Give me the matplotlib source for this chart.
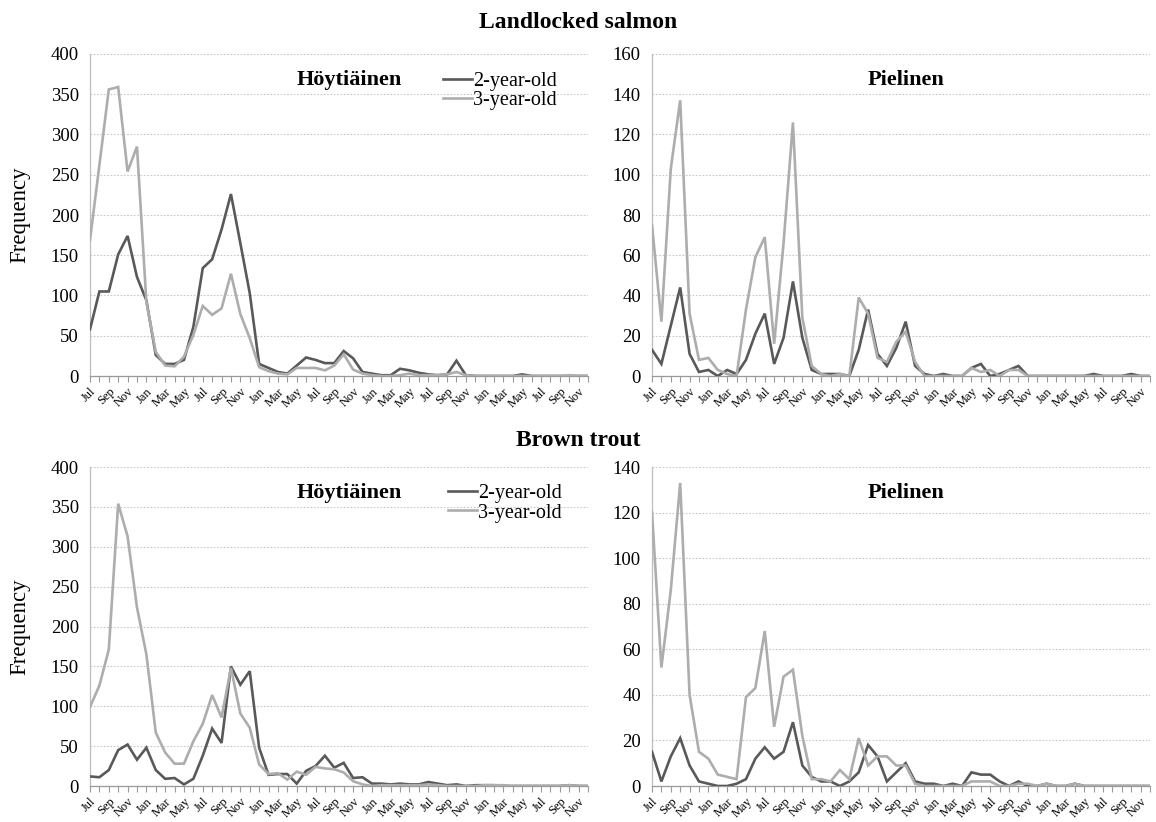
import numpy as np
import matplotlib
matplotlib.use("Agg")
import matplotlib.pyplot as plt
from matplotlib.lines import Line2D

plt.rcParams['font.family'] = ['Liberation Serif', 'DejaVu Serif']

# ---------------- data ----------------
months = ["Jul", "Aug", "Sep", "Oct", "Nov", "Dec", "Jan", "Feb", "Mar", "Apr", "May", "Jun"] * 4 + \
         ["Jul", "Aug", "Sep", "Oct", "Nov", "Dec"]
series_names = ["2-year-old", "3-year-old"]

salmon_hoyt_2 = [58, 105, 105, 151, 174, 123, 94, 26, 15, 15, 20, 61, 134, 145, 182, 226, 165, 103,
                 15, 10, 5, 3, 13, 23, 20, 16, 16, 31, 22, 5, 3, 1, 1, 9, 7, 4, 2, 1, 2, 19,
                 1, 0, 0, 0, 0, 0, 2, 0, 0, 0, 0, 0, 0, 0]
salmon_hoyt_3 = [169, 262, 356, 359, 254, 285, 92, 30, 13, 12, 24, 51, 87, 76, 84, 127, 77, 47,
                 11, 6, 3, 2, 10, 10, 10, 7, 13, 27, 8, 3, 1, 0, 0, 1, 3, 1, 1, 1, 2, 5,
                 1, 0, 0, 0, 0, 0, 0, 0, 0, 0, 0, 1, 0, 0]
salmon_piel_2 = [13, 6, 25, 44, 11, 2, 3, 0, 3, 1, 8, 21, 31, 6, 19, 47, 19, 3,
                 1, 1, 1, 0, 13, 33, 11, 5, 14, 27, 5, 1, 0, 1, 0, 0, 4, 6, 0, 1, 3, 5,
                 0, 0, 0, 0, 0, 0, 0, 1, 0, 0, 0, 1, 0, 0]
salmon_piel_3 = [75, 27, 103, 137, 31, 8, 9, 3, 1, 0, 33, 59, 69, 16, 66, 126, 29, 5,
                 1, 0, 1, 0, 39, 31, 9, 7, 17, 22, 7, 0, 0, 0, 0, 0, 4, 2, 3, 0, 3, 3,
                 0, 0, 0, 0, 0, 0, 0, 0, 0, 0, 0, 0, 0, 0]
trout_hoyt_2 = [12, 11, 20, 45, 52, 33, 48, 20, 9, 10, 2, 9, 38, 72, 54, 150, 127, 144,
                48, 14, 15, 15, 3, 19, 25, 38, 23, 29, 10, 11, 3, 3, 2, 3, 2, 2, 5, 3, 1, 2,
                0, 1, 1, 1, 0, 0, 0, 0, 0, 0, 0, 1, 0, 0]
trout_hoyt_3 = [99, 126, 171, 354, 313, 224, 165, 67, 42, 28, 28, 56, 78, 114, 86, 148, 91, 73,
                27, 15, 16, 8, 18, 14, 24, 22, 21, 17, 6, 2, 0, 1, 1, 1, 1, 1, 2, 1, 0, 0,
                0, 0, 1, 1, 1, 0, 0, 0, 0, 0, 0, 1, 0, 0]
trout_piel_2 = [15, 2, 13, 21, 9, 2, 1, 0, 0, 1, 3, 12, 17, 12, 15, 28, 9, 4,
                2, 2, 0, 2, 6, 18, 13, 2, 6, 10, 2, 1, 1, 0, 1, 0, 6, 5, 5, 2, 0, 2,
                0, 0, 1, 0, 0, 1, 0, 0, 0, 0, 0, 0, 0, 0]
trout_piel_3 = [120, 52, 86, 133, 40, 15, 12, 5, 4, 3, 39, 43, 68, 26, 48, 51, 22, 3,
                3, 2, 7, 3, 21, 9, 13, 13, 9, 9, 1, 0, 0, 0, 0, 0, 2, 2, 2, 0, 0, 1,
                1, 0, 1, 0, 0, 1, 0, 0, 0, 0, 0, 0, 0, 0]

# ---------------- layout ----------------
W, H = 1156, 822
fig = plt.figure(figsize=(W / 100, H / 100), dpi=100)
fig.patch.set_facecolor('white')

DARK = '#595959'
LIGHT = '#adadad'


def make_ax(l, t, r, b):
    return fig.add_axes([l / W, 1 - b / H, (r - l) / W, (b - t) / H])


def style(ax, ymax, ystep, two, three, title, title_x, legend_pos=None):
    x = np.arange(len(months))
    ax.plot(x, two, color=DARK, lw=1.9, solid_joinstyle='miter', zorder=3)
    ax.plot(x, three, color=LIGHT, lw=1.9, solid_joinstyle='miter', zorder=3)
    ax.set_xlim(0, len(months) - 1)
    ax.set_ylim(0, ymax)
    ax.set_yticks(np.arange(0, ymax + 1, ystep))
    ax.yaxis.grid(True, linestyle=(0, (1.5, 1.5)), color='#c8c8c8', lw=0.8)
    ax.set_axisbelow(True)
    ax.set_xticks(x)
    ax.set_xticklabels([m if i % 2 == 0 else '' for i, m in enumerate(months)],
                       rotation=45, ha='right', va='top', rotation_mode='anchor', fontsize=9)
    ax.tick_params(axis='x', length=4, width=0.8, color='#9a9a9a', pad=3)
    ax.tick_params(axis='y', length=0, labelsize=13.5, pad=8)
    for s in ['top', 'right']:
        ax.spines[s].set_visible(False)
    ax.spines['left'].set_color('#bdbdbd')
    ax.spines['bottom'].set_color('#9a9a9a')
    ax.spines['left'].set_linewidth(0.9)
    ax.spines['bottom'].set_linewidth(0.9)
    ax.text(title_x, 0.92, title, transform=ax.transAxes, ha='center', va='center',
            fontsize=16, fontweight='bold')
    if legend_pos is not None:
        handles = [Line2D([], [], color=DARK, lw=1.9), Line2D([], [], color=LIGHT, lw=1.9)]
        ax.legend(handles, series_names, loc='upper left', bbox_to_anchor=legend_pos,
                  frameon=False, fontsize=14.5, handlelength=1.45, handletextpad=0.05,
                  labelspacing=0.02, borderpad=0, borderaxespad=0)


ax1 = make_ax(90, 54, 588, 376)
style(ax1, 400, 50, salmon_hoyt_2, salmon_hoyt_3, 'Höytiäinen', 0.52, legend_pos=(0.709, 0.945))
ax2 = make_ax(652, 54, 1150, 376)
style(ax2, 160, 20, salmon_piel_2, salmon_piel_3, 'Pielinen', 0.51)
ax3 = make_ax(90, 467, 588, 786)
style(ax3, 400, 50, trout_hoyt_2, trout_hoyt_3, 'Höytiäinen', 0.52, legend_pos=(0.719, 0.947))
ax4 = make_ax(652, 467, 1150, 786)
style(ax4, 140, 20, trout_piel_2, trout_piel_3, 'Pielinen', 0.51)

fig.text(578 / W, 1 - 22 / H, 'Landlocked salmon', ha='center', va='center',
         fontsize=17, fontweight='bold')
fig.text(578 / W, 1 - 440 / H, 'Brown trout', ha='center', va='center',
         fontsize=17, fontweight='bold')
fig.text(20 / W, 1 - 215 / H, 'Frequency', rotation=90, ha='center', va='center', fontsize=16.5)
fig.text(20 / W, 1 - 627 / H, 'Frequency', rotation=90, ha='center', va='center', fontsize=16.5)

fig.savefig('out.png', dpi=100, facecolor='white')
